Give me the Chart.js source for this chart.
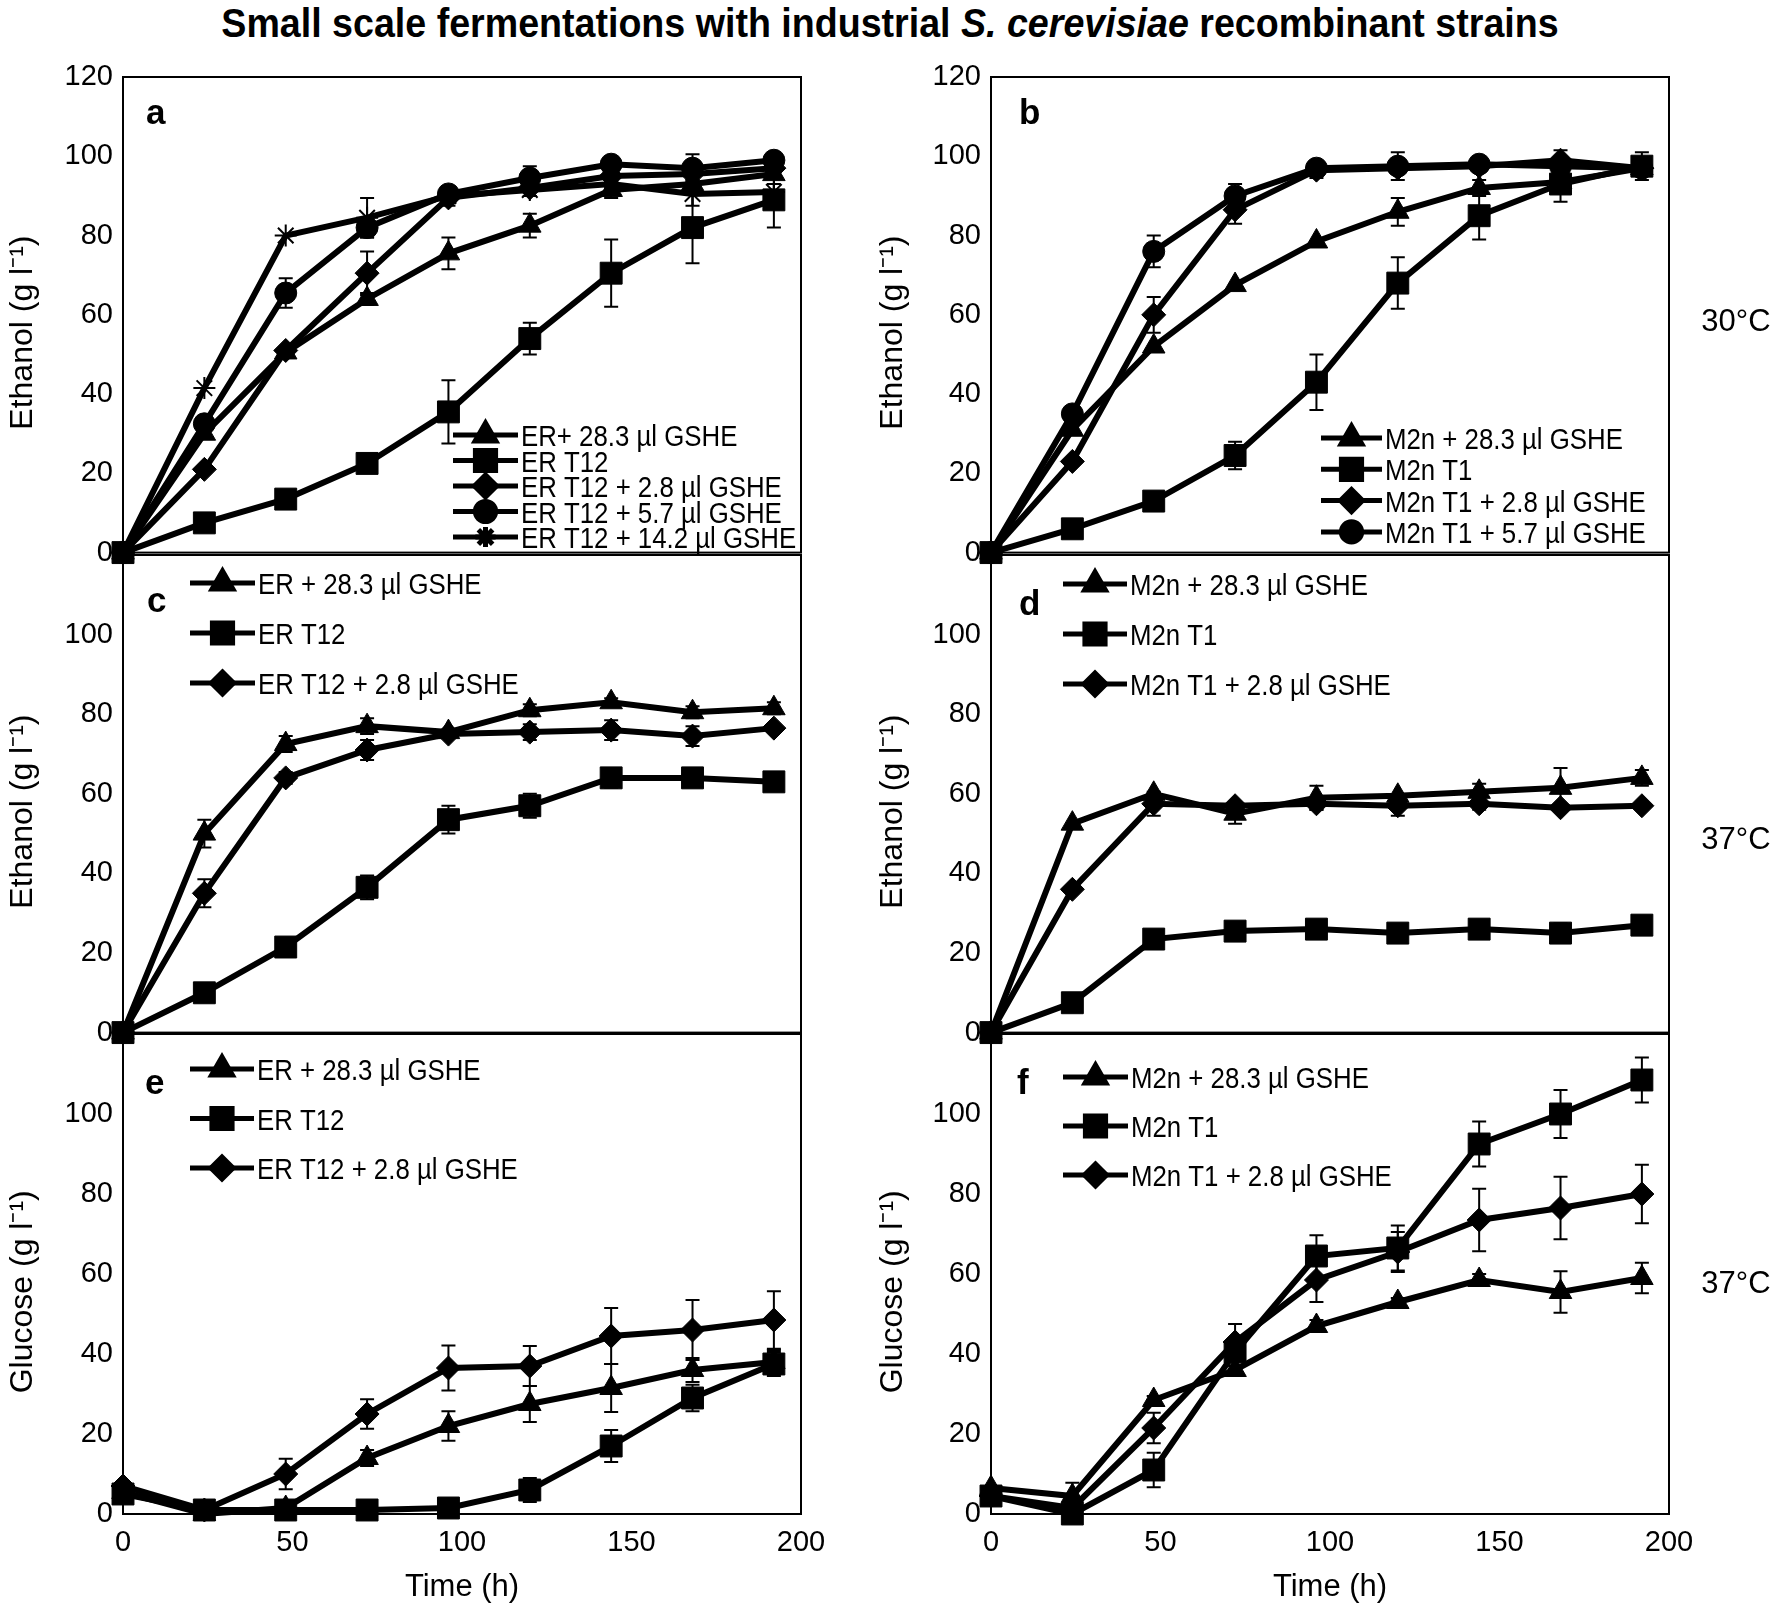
<!DOCTYPE html>
<html>
<head>
<meta charset="utf-8">
<title>Small scale fermentations</title>
<script src="https://cdn.jsdelivr.net/npm/chart.js@4.4.1/dist/chart.umd.min.js"></script>
<style>
  html, body { margin: 0; background: #fff; }
  #fig { position: relative; width: 1773px; height: 1612px; overflow: hidden; background: #fff; }
  #fig canvas { position: absolute; }
  #title {
    position: absolute; left: 0; top: 0; width: 1780px; line-height: 44px; text-align: center;
    font: bold 41px "Liberation Sans", Arial, sans-serif; color: #000; white-space: nowrap;
    transform: scaleX(0.917); transform-origin: 890px 0;
  }
</style>
</head>
<body>
<div id="fig">
  <div id="title">Small scale fermentations with industrial <i>S. cerevisiae</i> recombinant strains</div>
</div>
<script>
// sampling times (h)
const hours = [0, 24, 48, 72, 96, 120, 144, 168, 192];
const xTicks = [0, 50, 100, 150, 200];
const yTicks = [0, 20, 40, 60, 80, 100, 120];

// a: ethanol, ER strains, 30 °C
const aTri = [0, 30, 50.5, 64, 75.5, 82.5, 91.5, 93, 95.5];
const aTriErr = [0, 0, 0, 1.5, 4, 3, 2, 1, 1];
const aSq = [0, 7.5, 13.5, 22.5, 35.5, 54, 70.5, 82, 89];
const aSqErr = [0, 0, 0, 0, 8, 4, 8.5, 9, 7];
const aDia = [0, 21, 51, 70.5, 89.5, 92, 95, 95.5, 97];
const aDiaErr = [0, 0, 0, 5.5, 2, 2, 1.5, 1.5, 1];
const aCir = [0, 32.5, 65.5, 82, 90.5, 94.5, 98, 97, 99];
const aCirErr = [0, 0, 3.7, 2.5, 1, 3, 1, 3.5, 1];
const aStar = [0, 41.5, 80, 84.5, 90, 91.5, 93, 90.5, 91];
const aStarErr = [0, 0, 0, 5, 1.5, 1.5, 1, 3, 2];

// b: ethanol, M2n strains, 30 °C
const bTri = [0, 31, 52, 67.5, 78.5, 86, 92, 93.5, 97];
const bTriErr = [0, 0, 0, 0, 0, 3.5, 2, 0, 0];
const bSq = [0, 6, 13, 24.5, 43, 68, 85, 93, 97.5];
const bSqErr = [0, 0, 0, 3.5, 7, 6.5, 6, 4.5, 3.5];
const bDia = [0, 23, 60, 86.5, 96.5, 97, 97.5, 99, 97];
const bDiaErr = [0, 0, 4.5, 3.5, 2, 0, 0, 2.5, 0];
const bCir = [0, 35, 76, 90, 97, 97.5, 98, 97.5, 97];
const bCirErr = [0, 0, 4, 3, 1, 3.5, 1.5, 1, 1];

// c: ethanol, ER strains, 37 °C
const cTri = [0, 50, 72.5, 77, 75.5, 81, 83, 80.5, 81.5];
const cTriErr = [0, 3.5, 2, 2, 0, 1.5, 1, 1.5, 1.5];
const cSq = [0, 10, 21.5, 36.5, 53.5, 57, 64, 64, 63];
const cSqErr = [0, 0, 0, 3, 3.5, 3, 2.5, 1, 2];
const cDia = [0, 35, 64, 71, 75, 75.5, 76, 74.5, 76.5];
const cDiaErr = [0, 3.5, 1.5, 2.5, 1, 2, 2.5, 2.5, 0];

// d: ethanol, M2n strains, 37 °C
const dTri = [0, 52.5, 60, 55, 59, 59.5, 60.5, 61.5, 64];
const dTriErr = [0, 0, 0, 2.5, 3, 0, 2, 5, 2];
const dSq = [0, 7.5, 23.5, 25.5, 26, 25, 26, 25, 27];
const dSqErr = [0, 0, 0, 0, 0, 0, 2, 2.5, 0];
const dDia = [0, 36, 57.5, 57, 57.5, 57, 57.5, 56.5, 57];
const dDiaErr = [0, 0, 3, 0, 1.5, 2.5, 1.5, 0, 0];

// e: glucose, ER strains, 37 °C
const eTri = [5.5, 0, 1.5, 14, 22, 27.5, 31.5, 36, 38];
const eTriErr = [0, 0, 0, 2, 3.7, 4.5, 6, 3, 3];
const eSq = [5, 1, 1, 1, 1.5, 6, 17, 29, 37.5];
const eSqErr = [0, 0, 0, 0, 0, 3, 4, 3.3, 3];
const eDia = [7, 1, 10, 25, 36.5, 37, 44.5, 46, 48.5];
const eDiaErr = [0, 0, 3.8, 3.7, 5.6, 5, 7, 7.5, 7.2];

// f: glucose, M2n strains, 37 °C
const fTri = [6.5, 4.5, 28.5, 36, 47, 53, 58.5, 55.5, 59];
const fTriErr = [0, 3.3, 1, 0, 1.5, 1, 1.5, 5.2, 3.8];
const fSq = [4.5, 0, 11, 40.5, 64.5, 66.5, 92.5, 100, 108.5];
const fSqErr = [0, 0, 4.3, 3.5, 5.2, 5.6, 5.6, 6, 5.6];
const fDia = [4.5, 1.5, 21.5, 43, 58.5, 65.5, 73.5, 76.5, 80];
const fDiaErr = [0, 0, 3.8, 4.5, 5.5, 5, 7.8, 7.8, 7.3];

const namesA = ['ER+ 28.3 µl GSHE', 'ER T12', 'ER T12 + 2.8 µl GSHE', 'ER T12 + 5.7 µl GSHE', 'ER T12 + 14.2 µl GSHE'];
const namesB = ['M2n + 28.3 µl GSHE', 'M2n T1', 'M2n T1 + 2.8 µl GSHE', 'M2n T1 + 5.7 µl GSHE'];
const namesER = ['ER + 28.3 µl GSHE', 'ER T12', 'ER T12 + 2.8 µl GSHE'];
const namesM2n = ['M2n + 28.3 µl GSHE', 'M2n T1', 'M2n T1 + 2.8 µl GSHE'];

// marker per series position: triangle, square, diamond, circle, asterisk
const MARKS = [
  { pointStyle: 'triangle', pointRadius: 13, pointBorderWidth: 1 },
  { pointStyle: 'rect', pointRadius: 15.5, pointBorderWidth: 1 },
  { pointStyle: 'rectRot', pointRadius: 12, pointBorderWidth: 1 },
  { pointStyle: 'circle', pointRadius: 11, pointBorderWidth: 1 },
  { pointStyle: 'star', pointRadius: 11, pointBorderWidth: 2 },
];

// page geometry of the six plot boxes
const COLS = [
  { left: 0, width: 880, areaL: 123, areaR: 801 },
  { left: 870, width: 903, areaL: 991, areaR: 1669 },
];
const ROWS = [
  { top: 40, height: 540, areaT: 77, areaB: 555 },
  { top: 520, height: 540, areaT: 555, areaB: 1034 },
  { top: 1000, height: 612, areaT: 1034, areaB: 1514 },
];

// trailing spaces nudge the rotated title a little below the box centre, as in the original
const ETH = 'Ethanol (g l\u207B\u00B9)    ';
const GLU = 'Glucose (g l\u207B\u00B9)    ';

const panels = [
  { col: 0, row: 0, yTitle: ETH, letter: 'a', letterAt: [146, 124], names: namesA,
    series: [[aTri, aTriErr], [aSq, aSqErr], [aDia, aDiaErr], [aCir, aCirErr], [aStar, aStarErr]],
    legend: { x: 453, y: 435, gap: 25.5, len: 65 } },
  { col: 1, row: 0, yTitle: ETH, letter: 'b', letterAt: [1019, 124], names: namesB, side: '30°C', sideY: 322,
    series: [[bTri, bTriErr], [bSq, bSqErr], [bDia, bDiaErr], [bCir, bCirErr]],
    legend: { x: 1321, y: 438, gap: 31.3, len: 61 } },
  { col: 0, row: 1, yTitle: ETH, letter: 'c', letterAt: [147, 612], names: namesER,
    series: [[cTri, cTriErr], [cSq, cSqErr], [cDia, cDiaErr]],
    legend: { x: 190, y: 583, gap: 50, len: 65 } },
  { col: 1, row: 1, yTitle: ETH, letter: 'd', letterAt: [1019, 615], names: namesM2n, side: '37°C', sideY: 840,
    series: [[dTri, dTriErr], [dSq, dSqErr], [dDia, dDiaErr]],
    legend: { x: 1063, y: 584, gap: 50, len: 64 } },
  { col: 0, row: 2, yTitle: GLU, letter: 'e', letterAt: [145, 1094], names: namesER,
    series: [[eTri, eTriErr], [eSq, eSqErr], [eDia, eDiaErr]],
    legend: { x: 190, y: 1069, gap: 49.5, len: 64 } },
  { col: 1, row: 2, yTitle: GLU, letter: 'f', letterAt: [1017, 1094], names: namesM2n, side: '37°C', sideY: 1284,
    series: [[fTri, fTriErr], [fSq, fSqErr], [fDia, fDiaErr]],
    legend: { x: 1063, y: 1077, gap: 49, len: 65 } },
];

const FONT = '"Liberation Sans", Arial, sans-serif';
Chart.defaults.font.family = FONT;
Chart.defaults.color = '#000';

// error bars, box frame, panel letter, legend and temperature label
const decoPlugin = {
  id: 'deco',
  beforeDatasetsDraw(chart) {
    const { ctx, scales: { x, y } } = chart;
    ctx.save();
    ctx.strokeStyle = '#000';
    ctx.lineWidth = 2;
    chart.data.datasets.forEach((ds) => {
      ds.data.forEach((pt, k) => {
        const e = ds.errors[k];
        if (!e) return;
        const px = x.getPixelForValue(pt.x);
        const top = y.getPixelForValue(pt.y + e);
        const bot = y.getPixelForValue(Math.max(pt.y - e, 0));
        ctx.beginPath();
        ctx.moveTo(px, top); ctx.lineTo(px, bot);
        ctx.moveTo(px - 7, top); ctx.lineTo(px + 7, top);
        ctx.moveTo(px - 7, bot); ctx.lineTo(px + 7, bot);
        ctx.stroke();
      });
    });
    ctx.restore();
  },
  afterDraw(chart, args, opts) {
    const { ctx, chartArea: a } = chart;
    const ox = opts.ox, oy = opts.oy;
    ctx.save();
    ctx.strokeStyle = '#000';
    ctx.fillStyle = '#000';
    ctx.lineWidth = 2;
    ctx.strokeRect(a.left, a.top, a.right - a.left, a.bottom - a.top);

    ctx.font = 'bold 35px ' + FONT;
    ctx.textAlign = 'left';
    ctx.textBaseline = 'alphabetic';
    ctx.fillText(opts.letter, opts.letterAt[0] - ox, opts.letterAt[1] - oy);

    const lg = opts.legend;
    chart.data.datasets.forEach((ds, i) => {
      const y = lg.y - oy + i * lg.gap;
      const x0 = lg.x - ox;
      const x1 = x0 + lg.len;
      ctx.lineWidth = 5;
      ctx.beginPath();
      ctx.moveTo(x0, y); ctx.lineTo(x1, y);
      ctx.stroke();
      Chart.helpers.drawPoint(ctx, {
        pointStyle: ds.pointStyle, radius: ds.pointRadius * 0.92, borderWidth: ds.pointBorderWidth, rotation: 0,
      }, (x0 + x1) / 2, y);
      ctx.save();
      ctx.translate(x1 + 3, y + 11);
      ctx.scale(0.86, 1);
      ctx.font = '30px ' + FONT;
      ctx.fillText(ds.label, 0, 0);
      ctx.restore();
    });

    if (opts.side) {
      ctx.font = '31px ' + FONT;
      ctx.textAlign = 'center';
      ctx.textBaseline = 'middle';
      ctx.fillText(opts.side, 1736 - ox, opts.sideY - oy);
    }
    ctx.restore();
  },
};

const fig = document.getElementById('fig');

panels.forEach((p) => {
  const c = COLS[p.col];
  const r = ROWS[p.row];
  const bottomRow = p.row === ROWS.length - 1;
  const canvas = document.createElement('canvas');
  canvas.width = c.width;
  canvas.height = r.height;
  canvas.style.left = c.left + 'px';
  canvas.style.top = r.top + 'px';
  canvas.style.width = c.width + 'px';
  canvas.style.height = r.height + 'px';
  fig.appendChild(canvas);

  new Chart(canvas, {
    type: 'line',
    data: {
      datasets: p.series.map(([vals, errs], i) => ({
        label: p.names[i],
        data: hours.map((h, k) => ({ x: h, y: vals[k] })),
        errors: errs,
        borderColor: '#000',
        backgroundColor: '#000',
        borderWidth: 6,
        pointBackgroundColor: '#000',
        pointBorderColor: '#000',
        tension: 0,
        clip: false,
        ...MARKS[i],
      })),
    },
    options: {
      responsive: false,
      animation: false,
      events: [],
      layout: {
        autoPadding: false,
        padding: {
          left: 0,
          top: r.areaT - r.top,
          right: c.left + c.width - c.areaR,
          bottom: bottomRow ? 0 : r.top + r.height - r.areaB,
        },
      },
      plugins: {
        legend: { display: false },
        tooltip: { enabled: false },
        deco: {
          ox: c.left, oy: r.top, letter: p.letter, letterAt: p.letterAt,
          legend: p.legend, side: p.side || '', sideY: p.sideY || 0,
        },
      },
      scales: {
        x: {
          type: 'linear',
          display: bottomRow,
          min: xTicks[0],
          max: xTicks[xTicks.length - 1],
          grid: { display: false, drawTicks: false },
          border: { display: false },
          ticks: { stepSize: xTicks[1] - xTicks[0], padding: 12, maxRotation: 0, font: { size: 29 }, color: '#000' },
          title: { display: true, text: 'Time (h)', font: { size: 31 }, color: '#000', padding: { top: 0, bottom: 6 } },
          afterFit: (s) => { s.height = bottomRow ? 1612 - r.areaB : 0; },
        },
        y: {
          type: 'linear',
          min: yTicks[0],
          max: yTicks[yTicks.length - 1],
          grid: { display: false, drawTicks: false },
          border: { display: false },
          ticks: {
            stepSize: yTicks[1] - yTicks[0],
            padding: 10,
            font: { size: 29 },
            color: '#000',
            callback: (v) => (p.row > 0 && v === yTicks[yTicks.length - 1] ? '' : v),
          },
          title: { display: true, text: p.yTitle, font: { size: 32 }, color: '#000', padding: { top: 4, bottom: 4 } },
          afterFit: (s) => { s.width = c.areaL - c.left; },
        },
      },
    },
    plugins: [decoPlugin],
  });
});
</script>
</body>
</html>
